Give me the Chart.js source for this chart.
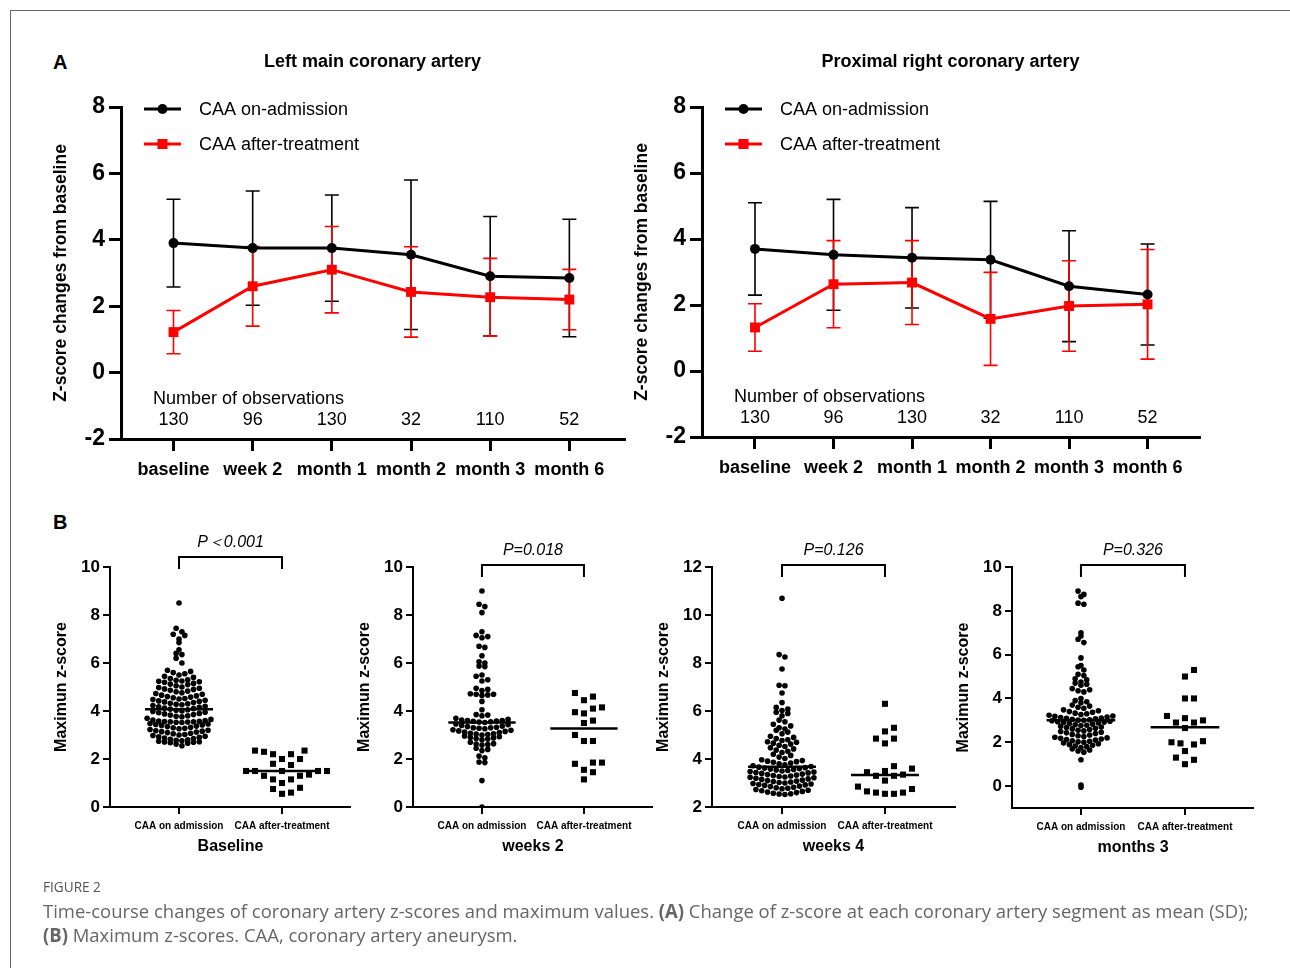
<!DOCTYPE html>
<html><head><meta charset="utf-8">
<script src="https://cdn.jsdelivr.net/npm/chart.js@4.4.1/dist/chart.umd.min.js"></script>
<style>
html,body{margin:0;padding:0;background:#fff;}
#page{position:relative;width:1290px;height:968px;overflow:hidden;font-family:"Liberation Sans",Arial,sans-serif;background:#fff;}
canvas{position:absolute;}
.frameTop{position:absolute;left:10px;top:10px;width:1280px;height:1px;background:#666;}
.frameLeft{position:absolute;left:10px;top:10px;width:1px;height:958px;background:#666;}
.plabel{position:absolute;font-weight:bold;font-size:20px;line-height:20px;color:#000;}
#caption{position:absolute;left:43px;top:0;font-family:"Open Sans",sans-serif;color:#666;transform-origin:0 0;}
#caption div{position:absolute;left:0;white-space:nowrap;}
#cfig{font-size:14px;line-height:16px;top:879px;color:#555;}
#c1,#c2{font-size:19px;line-height:24px;}
#c1{top:899px;} #c2{top:923px;}
</style>
</head><body>
<div id="page">
  <div class="frameTop"></div><div class="frameLeft"></div>
  <div class="plabel" style="left:53px;top:52px;">A</div>
  <div class="plabel" style="left:53px;top:512px;">B</div>
  <div id="caption">
    <div id="cfig">FIGURE 2</div>
    <div id="c1"><span id="c1s">Time-course changes of coronary artery z-scores and maximum values. <b>(A)</b> Change of z-score at each coronary artery segment as mean (SD);</span></div>
    <div id="c2"><b>(B)</b> Maximum z-scores. CAA, coronary artery aneurysm.</div>
  </div>
</div>
<script>
// ---------------- DATA ----------------
const categories = ['baseline', 'week 2', 'month 1', 'month 2', 'month 3', 'month 6'];
const observations = [130, 96, 130, 32, 110, 52];
const seriesNames = ['CAA on-admission', 'CAA after-treatment'];

const lmcaAdmMean = [3.9, 3.75, 3.75, 3.55, 2.9, 2.85];
const lmcaAdmSD   = [1.32, 1.72, 1.6, 2.25, 1.8, 1.77];
const lmcaTrtMean = [1.22, 2.6, 3.1, 2.43, 2.27, 2.2];
const lmcaTrtSD   = [0.65, 1.2, 1.3, 1.36, 1.17, 0.91];

const rcaAdmMean = [3.7, 3.52, 3.43, 3.37, 2.57, 2.32];
const rcaAdmSD   = [1.4, 1.68, 1.52, 1.77, 1.68, 1.53];
const rcaTrtMean = [1.32, 2.63, 2.68, 1.58, 1.97, 2.02];
const rcaTrtSD   = [0.72, 1.32, 1.27, 1.41, 1.37, 1.66];

const lineYTicks = [-2, 0, 2, 4, 6, 8];

const groups = ['CAA on admission', 'CAA after-treatment'];
const panelNames = ['Baseline', 'weeks 2', 'weeks 4', 'months 3'];
const pValues = ['P\uFF1C0.001', 'P=0.018', 'P=0.126', 'P=0.326'];

const baselineAdm = [
 2.55,2.62,2.66,2.68,2.7,2.71,2.72,2.74,
 2.76,2.78,2.8,2.82,2.85,2.87,2.9,2.92,2.95,2.98,
 3.0,3.02,3.05,3.07,3.1,3.12,3.14,3.16,3.18,3.2,3.23,
 3.26,3.28,3.3,3.32,3.35,3.37,3.4,3.42,3.44,3.46,3.48,
 3.52,3.53,3.54,3.55,3.55,3.56,3.57,3.58,3.6,3.62,3.65,3.7,
 3.76,3.78,3.8,3.83,3.85,3.88,3.9,3.93,3.95,3.98,
 4.0,4.03,4.05,4.08,4.1,4.12,4.15,4.18,4.2,4.23,
 4.26,4.28,4.3,4.32,4.35,4.38,4.4,4.42,4.45,4.48,
 4.5,4.52,4.55,4.58,4.6,4.63,4.66,4.7,4.73,
 4.76,4.8,4.83,4.86,4.9,4.92,4.95,4.98,
 5.0,5.05,5.1,5.12,5.15,5.2,5.22,5.24,
 5.25,5.28,5.3,5.35,5.4,5.45,
 5.5,5.55,5.6,5.65,5.7,
 6.0,6.2,6.35,6.4,6.55,6.85,7.0,7.15,7.2,7.3,7.45,8.5];
const baselineTrt = [2.35,2.35,2.3,2.2,2.2,2.0,2.0,1.8,1.75,1.5,1.5,1.5,1.5,1.5,1.35,1.3,1.3,1.15,1.15,1.0,0.8,0.75,0.6,0.55];

const week2Adm = [0.0, 1.1, 1.85,1.87, 2.05,2.12, 2.35,2.4,2.45,
 2.58,2.6,2.62,2.64,2.7,
 2.8,2.83,2.85,2.88,2.9,2.93,2.96,
 3.0,3.02,3.04,3.05,3.07,3.1,3.12,3.15,3.17,3.2,3.22,
 3.26,3.28,3.3,3.3,3.32,3.35,3.37,3.4,3.43,3.46,
 3.52,3.54,3.55,3.57,3.58,3.6,3.6,3.62,3.65,3.7,
 3.8,3.83,3.85, 4.05, 4.4, 4.65,4.67,4.7,4.7,4.72, 4.85,4.9,4.95,
 5.25,5.3,5.45, 5.5, 5.85,5.87, 6.0,6.05, 6.3, 6.65,6.7, 7.05,7.1,7.15, 7.3, 8.1, 8.35,8.45, 9.0];
const week2Trt = [4.75,4.6,4.45,4.15,4.1,3.95,3.9,3.6,3.5,3.0,2.75,2.75,1.85,1.85,1.8,1.55,1.45,1.15];

const week4Adm = [
 2.52,2.54,2.55,2.57,2.6,2.62,2.65,2.68,2.7,2.73,
 2.76,2.78,2.8,2.82,2.85,2.87,2.9,2.92,2.94,2.96,2.98,
 3.0,3.02,3.04,3.06,3.08,3.1,3.12,3.15,3.17,3.2,3.22,3.24,
 3.25,3.27,3.29,3.31,3.33,3.35,3.37,3.4,3.42,3.44,3.46,3.48,
 3.5,3.52,3.54,3.56,3.58,3.6,3.62,3.64,3.66,3.69,3.72,
 3.76,3.8,3.83,3.86,3.89,3.91,3.94,3.97,
 4.02,4.08,4.15,4.2,
 4.27,4.32,4.37,4.42,4.47,
 4.52,4.57,4.62,4.66,4.7,4.72,
 4.77,4.8,4.85,4.9,4.95,
 5.05,5.12,5.2,
 5.25,5.3,5.38,5.45,
 5.55,5.62,
 5.8,5.9,5.95,
 6.02,6.08,6.15, 6.35, 6.75, 7.05,7.07, 7.75, 8.25,8.35, 10.7];
const week4Trt = [6.3,5.3,5.15,4.85,4.85,4.65,3.7,3.6,3.5,3.45,3.35,3.3,3.3,3.1,2.85,2.75,2.65,2.6,2.6,2.55,2.55];

const month3Adm = [-0.05,0.05, 1.2,
 1.55,1.6,1.65,1.7,
 1.76,1.8,1.83,1.86,1.9,1.93,1.97,
 2.0,2.02,2.05,2.07,2.1,2.12,2.15,2.18,2.2,2.23,
 2.26,2.3,2.33,2.36,2.4,2.43,2.46,2.49,
 2.52,2.55,2.58,2.61,2.64,2.67,2.7,2.73,
 2.76,2.78,2.8,2.83,2.85,2.88,2.9,2.92,2.94,2.96,2.98,
 3.0,3.01,3.03,3.05,3.07,3.09,3.11,3.13,3.15,3.18,3.2,3.23,
 3.27,3.3,3.33,3.37,3.4,3.44,3.48,
 3.55,3.6,3.65,3.7, 3.8,3.85,3.9, 4.0,
 4.3,4.35,4.4,4.45, 4.6,4.65,4.7, 4.75,4.85,4.9, 5.05,5.1, 5.3,5.45,5.5,
 5.85, 6.55,6.7, 6.85,7.0, 8.3,8.35, 8.65,8.75,8.9];
const month3Trt = [5.3,5.0,4.0,4.0,3.2,3.1,3.0,2.9,2.9,2.65,2.05,2.0,1.95,1.9,1.6,1.3,1.2,1.0];

const baselineCentre = [4.07, 1.5];
const week2Centre = [3.52, 3.27];
const week4Centre = [3.68, 3.33];
const month3Centre = [3.0, 2.68];

const yTicks010 = [0, 2, 4, 6, 8, 10];
const yTicks212 = [2, 4, 6, 8, 10, 12];

// ---------------- RENDER ----------------
const FONT = '"Liberation Sans", Arial, Helvetica, sans-serif';
Chart.defaults.font.family = FONT;
Chart.defaults.color = '#000';
const page = document.getElementById('page');

function addCanvas(box) {
  const c = document.createElement('canvas');
  c.width = box.width; c.height = box.height;
  c.style.left = box.left + 'px'; c.style.top = box.top + 'px';
  c.style.width = box.width + 'px'; c.style.height = box.height + 'px';
  page.appendChild(c);
  return c;
}
function text(ctx, s, x, y, font, align, color) {
  ctx.save();
  ctx.font = font; ctx.fillStyle = color || '#000';
  ctx.textAlign = align || 'center'; ctx.textBaseline = 'middle';
  ctx.fillText(s, x, y);
  ctx.restore();
}
function vtext(ctx, s, x, y, font) {
  ctx.save();
  ctx.translate(x, y); ctx.rotate(-Math.PI / 2);
  ctx.font = font; ctx.fillStyle = '#000';
  ctx.textAlign = 'center'; ctx.textBaseline = 'middle';
  ctx.fillText(s, 0, 0);
  ctx.restore();
}

const decorLine = {
  id: 'decorLine',
  beforeDatasetsDraw(chart, args, o) {
    const ctx = chart.ctx, xs = chart.scales.x, ys = chart.scales.y;
    o.errors.forEach(e => {
      ctx.save(); ctx.strokeStyle = e.color; ctx.lineWidth = 1.6;
      e.mean.forEach((m, i) => {
        const x = xs.getPixelForValue(i);
        const y1 = ys.getPixelForValue(m + e.sd[i]), y2 = ys.getPixelForValue(m - e.sd[i]);
        ctx.beginPath();
        ctx.moveTo(x, y1); ctx.lineTo(x, y2);
        ctx.moveTo(x - 7, y1); ctx.lineTo(x + 7, y1);
        ctx.moveTo(x - 7, y2); ctx.lineTo(x + 7, y2);
        ctx.stroke();
      });
      ctx.restore();
    });
  },
  afterDraw(chart, args, o) {
    const ctx = chart.ctx, a = chart.chartArea, xs = chart.scales.x;
    text(ctx, o.title, (a.left + a.right) / 2, a.top - 45, `bold 18px ${FONT}`);
    vtext(ctx, 'Z-score changes from baseline', a.left - 60, (a.top + a.bottom) / 2, `bold 17.5px ${FONT}`);
    o.legend.forEach((l, k) => {
      const y = a.top + 2 + k * 35;
      ctx.save();
      ctx.strokeStyle = l.color; ctx.fillStyle = l.color; ctx.lineWidth = 3;
      ctx.beginPath(); ctx.moveTo(a.left + 23, y); ctx.lineTo(a.left + 60, y); ctx.stroke();
      const cx = a.left + 41.5;
      if (l.shape === 'circle') { ctx.beginPath(); ctx.arc(cx, y, 5, 0, Math.PI * 2); ctx.fill(); }
      else { ctx.fillRect(cx - 5, y - 5, 10, 10); }
      ctx.restore();
      text(ctx, l.label, a.left + 78, y + 1, `18px ${FONT}`, 'left');
    });
    text(ctx, 'Number of observations', a.left + 32, a.bottom - 40, `18px ${FONT}`, 'left');
    o.counts.forEach((n, i) => text(ctx, String(n), xs.getPixelForValue(i), a.bottom - 19, `18px ${FONT}`));
  }
};

function makeLine(cfg) {
  const canvas = addCanvas(cfg.box);
  const { box, area } = cfg;
  const axisStyle = {
    grid: { drawOnChartArea: false, drawTicks: true, tickLength: 12, color: '#000', lineWidth: 3 },
    border: { display: true, color: '#000', width: 3 }
  };
  new Chart(canvas, {
    type: 'line',
    data: {
      datasets: [
        { label: seriesNames[0], data: cfg.admMean.map((v, i) => ({ x: i, y: v })),
          borderColor: '#000', backgroundColor: '#000', borderWidth: 3,
          pointStyle: 'circle', pointRadius: 5, pointBorderWidth: 0, tension: 0 },
        { label: seriesNames[1], data: cfg.trtMean.map((v, i) => ({ x: i, y: v })),
          borderColor: '#ff0000', backgroundColor: '#ff0000', borderWidth: 3,
          pointStyle: 'rect', pointRadius: 7, pointBorderWidth: 0, tension: 0 }
      ]
    },
    options: {
      responsive: false, animation: false, devicePixelRatio: 1, events: [],
      layout: { padding: { left: 0, top: area.T - box.top, right: box.left + box.width - area.R, bottom: 0 } },
      plugins: {
        legend: { display: false }, tooltip: { enabled: false },
        decorLine: {
          title: cfg.title,
          errors: [
            { mean: cfg.admMean, sd: cfg.admSD, color: '#000' },
            { mean: cfg.trtMean, sd: cfg.trtSD, color: '#ff0000' }
          ],
          legend: [
            { label: seriesNames[0], color: '#000', shape: 'circle' },
            { label: seriesNames[1], color: '#ff0000', shape: 'rect' }
          ],
          counts: observations
        }
      },
      scales: {
        x: Object.assign({
          type: 'linear', min: cfg.xmin, max: cfg.xmax,
          afterBuildTicks: s => { s.ticks = categories.map((c, i) => ({ value: i })); },
          afterFit: s => { s.height = box.top + box.height - area.B; },
          ticks: { callback: v => categories[Math.round(v)], font: { size: 18, weight: 'bold' },
                   color: '#000', padding: 8, maxRotation: 0, autoSkip: false }
        }, axisStyle),
        y: Object.assign({
          min: -2, max: 8,
          afterBuildTicks: s => { s.ticks = lineYTicks.map(v => ({ value: v })); },
          afterFit: s => { s.width = area.L - box.left; },
          ticks: { font: { size: 23, weight: 'bold' }, color: '#000', padding: 4 }
        }, axisStyle)
      }
    },
    plugins: [decorLine]
  });
}

makeLine({ box: { left: 20, top: 40, width: 620, height: 450 }, area: { L: 121, T: 107, R: 624, B: 439 },
  xmin: -0.663, xmax: 5.69, title: 'Left main coronary artery',
  admMean: lmcaAdmMean, admSD: lmcaAdmSD, trtMean: lmcaTrtMean, trtSD: lmcaTrtSD });
makeLine({ box: { left: 620, top: 40, width: 650, height: 450 }, area: { L: 702, T: 107, R: 1199, B: 437 },
  xmin: -0.675, xmax: 5.655, title: 'Proximal right coronary artery',
  admMean: rcaAdmMean, admSD: rcaAdmSD, trtMean: rcaTrtMean, trtSD: rcaTrtSD });

// ---- dot plots ----
const decorDot = {
  id: 'decorDot',
  afterDraw(chart, args, o) {
    const ctx = chart.ctx, a = chart.chartArea, xs = chart.scales.x;
    const x0 = xs.getPixelForValue(0), x1 = xs.getPixelForValue(1);
    const by = a.top + o.bracketOffset;
    ctx.save(); ctx.strokeStyle = '#000'; ctx.lineWidth = 2;
    ctx.beginPath(); ctx.moveTo(x0, by + 12); ctx.lineTo(x0, by); ctx.lineTo(x1, by); ctx.lineTo(x1, by + 12); ctx.stroke();
    ctx.restore();
    text(ctx, o.p, (x0 + x1) / 2, by - 14, `italic 16px ${FONT}`);
    vtext(ctx, 'Maximun z-score', a.left - 48, (a.top + a.bottom) / 2, `bold 16px ${FONT}`);
    text(ctx, o.name, (x0 + x1) / 2, a.bottom + 40, `bold 16px ${FONT}`);
  }
};

// GraphPad-like row layout: values grouped into horizontal rows, spread side by side
function rowLayout(values, center, chart, binUnits, spacingPx) {
  const xs = chart.scales.x, ys = chart.scales.y;
  const ppx = xs.getPixelForValue(1) - xs.getPixelForValue(0);
  const rows = new Map();
  values.forEach(v => {
    const r = Math.floor((v - ys.min) / binUnits + 1e-9);
    if (!rows.has(r)) rows.set(r, []);
    rows.get(r).push(v);
  });
  const out = [];
  rows.forEach(list => {
    list.sort((p, q) => p - q);
    const n = list.length;
    const offs = [];
    for (let j = 0; j < n; j++) offs.push((j - (n - 1) / 2) * spacingPx);
    offs.sort((p, q) => Math.abs(p) - Math.abs(q) || q - p);
    // interleave so adjacent values alternate sides
    list.forEach((v, k) => out.push({ x: center + offs[k] / ppx, y: v }));
  });
  return out;
}

function swarm(values, center, chart, diam) {
  const xs = chart.scales.x, ys = chart.scales.y;
  const ppx = xs.getPixelForValue(1) - xs.getPixelForValue(0);
  const items = values.map(v => ({ v, py: ys.getPixelForValue(v) })).sort((p, q) => p.v - q.v);
  const placed = [], out = [];
  const step = diam / 2;
  for (const it of items) {
    let chosen = 0;
    for (let k = 0; k < 400; k++) {
      const off = k === 0 ? 0 : (k % 2 ? 1 : -1) * Math.ceil(k / 2) * step;
      let ok = true;
      for (const p of placed) {
        const dx = p.px - off, dy = p.py - it.py;
        if (dx * dx + dy * dy < diam * diam * 0.97) { ok = false; break; }
      }
      if (ok) { chosen = off; break; }
    }
    placed.push({ px: chosen, py: it.py });
    out.push({ x: center + chosen / ppx, y: it.v });
  }
  return out;
}

function makeDot(cfg) {
  const { box, area } = cfg;
  const canvas = addCanvas(box);
  const axisStyle = {
    grid: { drawOnChartArea: false, drawTicks: true, tickLength: 7, color: '#000', lineWidth: 2 },
    border: { display: true, color: '#000', width: 2 }
  };
  const hw = 0.33;
  const chart = new Chart(canvas, {
    type: 'scatter',
    data: {
      datasets: [
        { data: [{ x: 0 - hw, y: cfg.centre[0] }, { x: 0 + hw, y: cfg.centre[0] }], showLine: true,
          borderColor: '#000', borderWidth: 2.5, pointRadius: 0 },
        { data: [{ x: 1 - hw, y: cfg.centre[1] }, { x: 1 + hw, y: cfg.centre[1] }], showLine: true,
          borderColor: '#000', borderWidth: 2.5, pointRadius: 0 },
        { data: [], pointStyle: 'circle', pointRadius: 2.8, backgroundColor: '#000', borderWidth: 0, pointBorderWidth: 0 },
        { data: [], pointStyle: 'rect', pointRadius: 4.3, backgroundColor: '#000', borderWidth: 0, pointBorderWidth: 0 }
      ]
    },
    options: {
      responsive: false, animation: false, devicePixelRatio: 1, events: [],
      layout: { padding: { left: 0, top: area.T - box.top, right: box.left + box.width - area.R, bottom: 0 } },
      plugins: {
        legend: { display: false }, tooltip: { enabled: false },
        decorDot: { p: cfg.p, name: cfg.name, bracketOffset: cfg.bracketOffset }
      },
      scales: {
        x: Object.assign({
          type: 'linear', min: cfg.xmin, max: cfg.xmax,
          afterBuildTicks: s => { s.ticks = groups.map((g, i) => ({ value: i })); },
          afterFit: s => { s.height = box.top + box.height - area.B; },
          ticks: { callback: v => groups[Math.round(v)], font: { size: 10, weight: 'bold' },
                   color: '#000', padding: 6, maxRotation: 0, autoSkip: false }
        }, axisStyle),
        y: Object.assign({
          min: cfg.ymin, max: cfg.ymax,
          afterBuildTicks: s => { s.ticks = cfg.yticks.map(v => ({ value: v })); },
          afterFit: s => { s.width = area.L - box.left; },
          ticks: { font: { size: 17, weight: 'bold' }, color: '#000', padding: 3 }
        }, axisStyle)
      }
    },
    plugins: [decorDot]
  });
  chart.data.datasets[2].data = rowLayout(cfg.adm, 0, chart, 0.25, 5.8);
  chart.data.datasets[3].data = swarm(cfg.trt, 1, chart, 9.0);
  chart.update('none');
}

makeDot({ box: { left: 20, top: 500, width: 340, height: 370 }, area: { L: 110, T: 567, R: 350, B: 807 },
  xmin: -0.670, xmax: 1.660, ymin: 0, ymax: 10, yticks: yTicks010, bracketOffset: -10,
  adm: baselineAdm, trt: baselineTrt, centre: baselineCentre, p: pValues[0], name: panelNames[0] });
makeDot({ box: { left: 320, top: 500, width: 350, height: 370 }, area: { L: 413, T: 567, R: 652, B: 807 },
  xmin: -0.676, xmax: 1.667, ymin: 0, ymax: 10, yticks: yTicks010, bracketOffset: -2,
  adm: week2Adm, trt: week2Trt, centre: week2Centre, p: pValues[1], name: panelNames[1] });
makeDot({ box: { left: 620, top: 500, width: 350, height: 370 }, area: { L: 712, T: 567, R: 955, B: 807 },
  xmin: -0.680, xmax: 1.680, ymin: 2, ymax: 12, yticks: yTicks212, bracketOffset: -2,
  adm: week4Adm, trt: week4Trt, centre: week4Centre, p: pValues[2], name: panelNames[2] });
makeDot({ box: { left: 920, top: 500, width: 350, height: 370 }, area: { L: 1012, T: 567, R: 1253, B: 808 },
  xmin: -0.663, xmax: 1.654, ymin: -1, ymax: 10, yticks: yTicks010, bracketOffset: -2,
  adm: month3Adm, trt: month3Trt, centre: month3Centre, p: pValues[3], name: panelNames[3] });

// caption fit (offsetWidth is not affected by transforms)
function fitCaption() {
  const w = document.getElementById('c1s').offsetWidth;
  document.getElementById('caption').style.transform = 'scaleX(' + (1205 / w) + ')';
}
fitCaption();
if (document.fonts && document.fonts.ready) document.fonts.ready.then(fitCaption);
</script>
</body></html>
